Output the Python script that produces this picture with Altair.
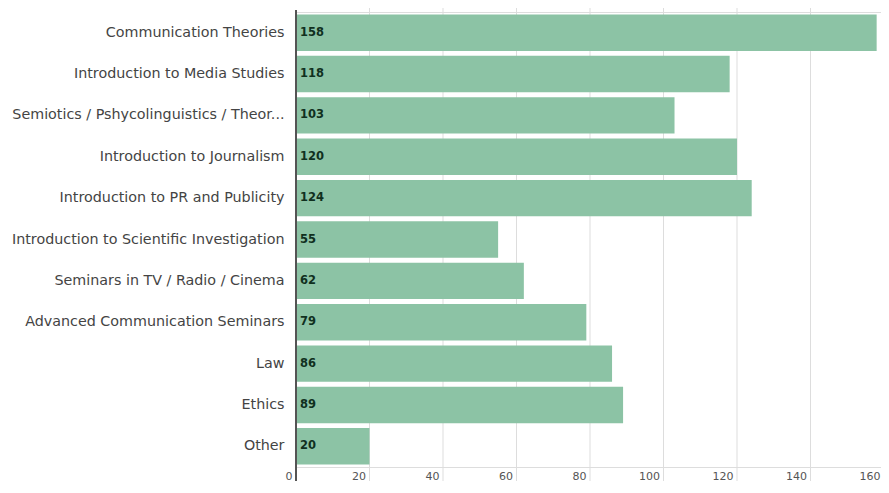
import altair as alt
import pandas as pd

categories = [
    "Communication Theories",
    "Introduction to Media Studies",
    "Semiotics / Pshycolinguistics / Theor...",
    "Introduction to Journalism",
    "Introduction to PR and Publicity",
    "Introduction to Scientific Investigation",
    "Seminars in TV / Radio / Cinema",
    "Advanced Communication Seminars",
    "Law",
    "Ethics",
    "Other",
]
values = [158, 118, 103, 120, 124, 55, 62, 79, 86, 89, 20]
tick_values = [0, 20, 40, 60, 80, 100, 120, 140, 160]

df = pd.DataFrame({"course": categories, "count": values})
grid_df = pd.DataFrame({"t": tick_values[1:]})

H = 455
W = 588
TOP = 4
BOTTOM = 14
FONT = "DejaVu Sans"

xscale = alt.Scale(domain=[0, 160], nice=False)
x = alt.X("count:Q", scale=xscale,
          axis=alt.Axis(values=tick_values, title=None, grid=False,
                        domain=False, ticks=False, labelAlign="right", labelPadding=3,
                        labelOffset=-4, labelColor="#555555", labelFontSize=11,
                        labelFont=FONT, labelFlush=False))
y = alt.Y("course:N", sort=None, title=None,
          scale=alt.Scale(paddingInner=0.12, paddingOuter=0.06),
          axis=alt.Axis(domain=False, ticks=False, labelPadding=12, labelColor="#444444",
                        labelFontSize=14.3, labelFont=FONT, labelLimit=300))

grid = alt.Chart(grid_df).mark_rule(color="#dddddd", strokeWidth=1).encode(
    x=alt.X("t:Q", scale=xscale), y=alt.value(-TOP), y2=alt.value(H + BOTTOM))
bars = alt.Chart(df).mark_bar(color="#8cc3a5").encode(x=x, y=y)
text = alt.Chart(df).mark_text(align="left", dx=4, fontSize=11.5, fontWeight="bold",
                               font=FONT, color="#10301e").encode(
    x=alt.X("zero:Q", scale=xscale), y=alt.Y("course:N", sort=None), text="count:Q"
).transform_calculate(zero="0")
rule = alt.Chart(df).mark_rule(color="#555555", strokeWidth=1.5).encode(
    x=alt.datum(0), y=alt.value(-2), y2=alt.value(H + BOTTOM))

chart = alt.layer(grid, bars, text, rule).properties(
    width=W, height=H,
    autosize=alt.AutoSizeParams(type="none"),
    padding={"left": 288, "top": TOP, "right": -3, "bottom": BOTTOM},
).configure_view(stroke=None).configure(background="white")

chart.save("out.html", embed_options={"renderer": "svg", "actions": False})
